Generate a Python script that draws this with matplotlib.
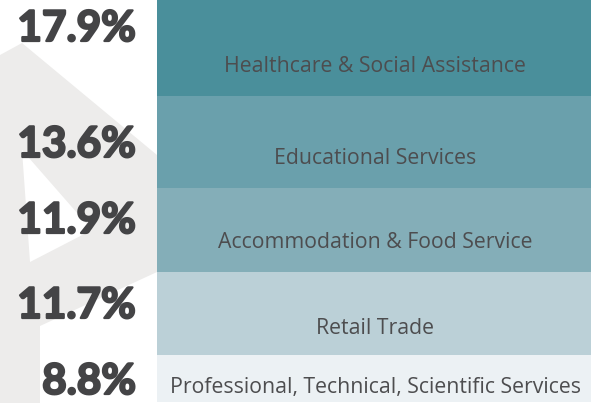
import matplotlib
matplotlib.use("Agg")
import matplotlib.pyplot as plt
from matplotlib.patches import Polygon
import matplotlib.patheffects as pe
import numpy as np

# ---- data ----
categories = [
    "Healthcare & Social Assistance",
    "Educational Services",
    "Accommodation & Food Service",
    "Retail Trade",
    "Professional, Technical, Scientific Services",
]
shares = [17.9, 13.6, 11.9, 11.7, 8.8]
share_labels = [f"{v:.1f}%" for v in shares]

# ---- layout / style ----
W, H = 591, 403
band_heights = [96, 92, 84, 83, 47]          # pixel heights of the bands
label_offsets = [29, 30, 30, 27, 14]         # category label: px above band bottom
pct_centers = [29, 145, 221, 306, 382]       # y-centre of percentage labels
band_colors = ["#4a8f9b", "#6aa0ac", "#84aeb8", "#bbd0d7", "#ecf1f4"]
band_left, band_right = 157, 591
text_dark = "#444446"
cat_color = "#4d4d4f"
grey = "#edeceb"

fig = plt.figure(figsize=(W / 100, H / 100), dpi=100)
ax = fig.add_axes([0, 0, 1, 1])
ax.set_xlim(0, W)
ax.set_ylim(H, 0)
ax.axis("off")

# background logo shape (light grey), with a white play-triangle notch
outer = [(0, 55), (22, 43), (157, 155), (157, 272), (40, 326), (40, 403), (0, 403)]
ax.add_patch(Polygon(outer, closed=True, facecolor=grey, edgecolor="none", zorder=0))
notch = [(22, 150), (30, 262), (92, 230)]
ax.add_patch(Polygon(notch, closed=True, facecolor="white", edgecolor="none", zorder=0.5))

# bands
tops = np.concatenate([[0], np.cumsum(band_heights)[:-1]])
centers = tops + np.array(band_heights) / 2
ax.barh(centers, band_right - band_left, left=band_left, height=band_heights,
        color=band_colors, edgecolor="none", zorder=1)

xmid = (band_left + band_right) / 2 + 1
for cat, top, h, off in zip(categories, tops, band_heights, label_offsets):
    ax.text(xmid, top + h - off, cat, ha="center", va="center",
            fontsize=15.3, color=cat_color, family=["Open Sans", "DejaVu Sans"], zorder=3)

for lab, yc in zip(share_labels, pct_centers):
    ax.text(136, yc, lab, ha="right", va="center", fontsize=30.5,
            fontweight="bold", color=text_dark, family=["Lato", "DejaVu Sans"], zorder=3,
            path_effects=[pe.withStroke(linewidth=1.6, foreground=text_dark)])

fig.savefig("out.png", dpi=100)
